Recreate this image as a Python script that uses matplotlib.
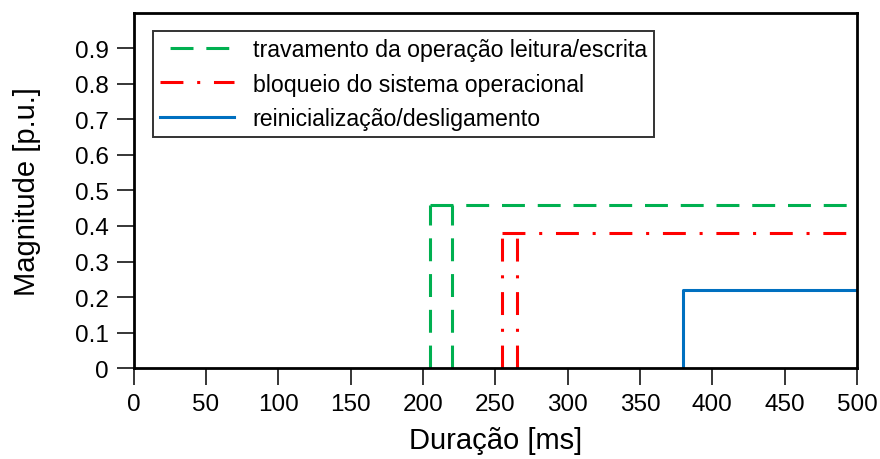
import matplotlib
matplotlib.use("Agg")
import matplotlib.pyplot as plt
from matplotlib.lines import Line2D
import numpy as np

plt.rcParams['font.family'] = ['Liberation Sans', 'DejaVu Sans']

# data
green_h_x = [205, 500]
green_h_y = [0.46, 0.46]
green_v1_x = [205, 205]
green_v2_x = [220, 220]
green_v_y = [0, 0.46]
red_h_x = [255, 500]
red_h_y = [0.38, 0.38]
red_v1_x = [255, 255]
red_v2_x = [265, 265]
red_v_y = [0, 0.38]
blue_x = [380, 380, 500]
blue_y = [0, 0.22, 0.22]
labels = ["travamento da operação leitura/escrita",
          "bloqueio do sistema operacional",
          "reinicialização/desligamento"]
xticks = list(range(0, 501, 50))
yticks = [0, 0.1, 0.2, 0.3, 0.4, 0.5, 0.6, 0.7, 0.8, 0.9]
ytick_labels = ["0", "0.1", "0.2", "0.3", "0.4", "0.5", "0.6", "0.7", "0.8", "0.9"]

W, H = 880, 460
fig = plt.figure(figsize=(8.8, 4.6), dpi=100)
L, R, T, B = 133.5, 857, 13.5, 369.3
ax = fig.add_axes([L/W, 1 - B/H, (R-L)/W, (B-T)/H])

lw = 2.2
gdash = (0, (7.5, 4.2))
rdash = (0, (7.5, 4.5, 1, 4.5))
green = '#00b050'
red = '#ff0000'
blue = '#0070c0'

ax.plot(green_h_x, green_h_y, color=green, lw=lw, linestyle=gdash)
ax.plot(green_v1_x, green_v_y, color=green, lw=lw, linestyle=gdash)
ax.plot(green_v2_x, green_v_y, color=green, lw=lw, linestyle=gdash)
ax.plot(red_h_x, red_h_y, color=red, lw=lw, linestyle=rdash)
ax.plot(red_v1_x, red_v_y, color=red, lw=lw, linestyle=rdash)
ax.plot(red_v2_x, red_v_y, color=red, lw=lw, linestyle=rdash)
ax.plot(blue_x, blue_y, color=blue, lw=lw, linestyle='-')

ax.set_xlim(0, 500)
ax.set_ylim(0, 1.0)
ax.set_xticks(xticks)
ax.set_yticks(yticks)
ax.set_yticklabels(ytick_labels)
ax.tick_params(axis='both', direction='out', length=12, width=1.1, labelsize=17.5, pad=6,
               colors='black')
for s in ax.spines.values():
    s.set_linewidth(2.0)

ax.set_xlabel("Duração [ms]", fontsize=21)
ax.set_ylabel("Magnitude [p.u.]", fontsize=21)
ax.yaxis.set_label_coords((27 - L) / (R - L), 0.5)
ax.xaxis.set_label_coords(0.5, (B - 441) / (B - T))
ax.xaxis.label.set_va('center')
ax.yaxis.label.set_va('center')

handles = [
    Line2D([], [], color=green, lw=lw, linestyle=(8.4, (7.5, 4.2))),
    Line2D([], [], color=red, lw=lw, linestyle=rdash),
    Line2D([], [], color=blue, lw=lw, linestyle='-'),
]
leg = ax.legend(handles, labels, loc='upper left',
                bbox_to_anchor=((153 - L) / (R - L), (B - 32) / (B - T)),
                fontsize=16.7, frameon=True, fancybox=False, edgecolor='black',
                handlelength=3.2, borderpad=0.3, labelspacing=0.5,
                handletextpad=0.8, borderaxespad=0)
leg.get_frame().set_linewidth(1.4)

fig.savefig("out.png", dpi=100)
